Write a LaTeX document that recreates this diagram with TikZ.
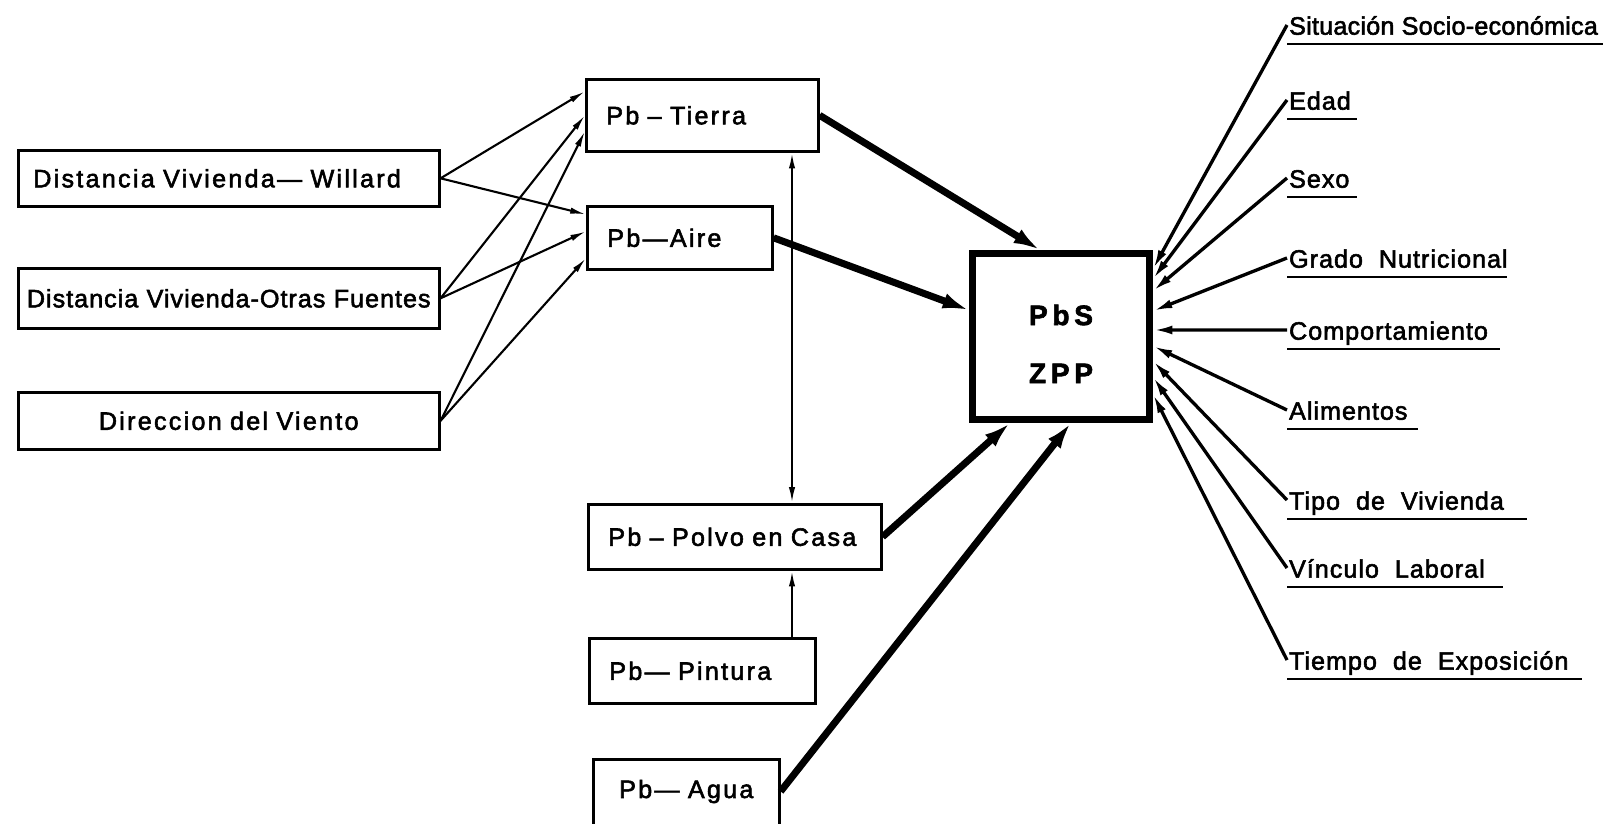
\documentclass[tikz,border=0pt]{standalone}
\usepackage{fontspec}
\setmainfont{Liberation Sans}[LetterSpace=9, FakeBold=2.2]
\newfontfamily\tightfont{Liberation Sans}[LetterSpace=4, FakeBold=2.2]
\usepackage{tikz}
\usetikzlibrary{arrows.meta, calc, positioning}
\definecolor{inkcolor}{RGB}{0,0,0}
\newcommand{\diagfont}{\fontsize{14.3}{17}\selectfont}

\begin{document}
\begin{tikzpicture}[
	x=0.02cm, y=-0.02cm,
	font=\diagfont,
	thintip/.tip={Latex[length=9pt,width=3.6pt]},
	bigtip/.tip={Latex[length=15pt,width=9pt]},
	spoketip/.tip={Latex[length=11pt,width=5pt]},
	box/.style={draw=inkcolor, line width=1.5pt, inner xsep=0.4cm, inner ysep=0pt, anchor=north west, align=left},
	thinarr/.style={draw=inkcolor, line width=1.2pt, -thintip},
	thickarr/.style={draw=inkcolor, line width=4pt, -bigtip},
	spoke/.style={draw=inkcolor, line width=1.9pt, -spoketip},
	uline/.style={draw=inkcolor, line width=1.4pt},
	factor/.style={anchor=west, inner xsep=1pt, inner ysep=0.18cm, text height=11pt, text depth=0pt, font=\diagfont\tightfont}
	]
\clip (0,0) rectangle (1614,824);

% distances and wind
\node[box, text width=7.82cm, inner xsep=0.3cm, minimum height=1.12cm] (willard) at (17,149) {Distancia Vivienda— Willard};
\node[box, text width=8.1cm, inner xsep=0.16cm, minimum height=1.2cm, align=center] (otras) at (17,267) {\tightfont Distancia Vivienda-Otras Fuentes};
\node[box, text width=7.82cm, inner xsep=0.3cm, minimum height=1.14cm, align=center] (viento) at (17,391) {Direccion del Viento};

% lead sources
\node[box, text width=3.84cm, minimum height=1.44cm] (tierra) at (585,78) {Pb – Tierra};
\node[box, text width=2.9cm, minimum height=1.26cm] (aire) at (586,205) {Pb—Aire};
\node[box, text width=5.06cm, minimum height=1.3cm] (polvo) at (587,503) {Pb – Polvo en Casa};
\node[box, text width=3.72cm, minimum height=1.3cm] (pintura) at (588,637) {Pb— Pintura};
\node[box, text width=2.92cm, minimum height=1.96cm, align=center] (agua) at (592,758) {Pb— Agua\\ \strut};

% blood lead
\node[draw=inkcolor, line width=4pt, minimum width=3.54cm, minimum height=3.32cm, anchor=north west, align=center, font=\fontsize{16}{19}\selectfont\bfseries] (pbs) at (969,250) {\rule{0pt}{20pt}P\,b\,S\\[14pt]Z\,P\,P};

% thin arrows
\draw[thinarr] (willard.east) -- ([yshift=13.6pt]tierra.west);
\draw[thinarr] (willard.east) -- ([yshift=13.3pt]aire.west);
\draw[thinarr] (otras.east) -- (tierra.west);
\draw[thinarr] (otras.east) -- ([yshift=3.7pt]aire.west);
\draw[thinarr] (viento.east) -- ([yshift=-9pt]tierra.west);
\draw[thinarr] (viento.east) -- ([yshift=-11.6pt]aire.west);

\coordinate (link) at (792,0);
\draw[thinarr, thintip-thintip] (tierra.south -| link) -- (polvo.north -| link);
\draw[thinarr] (pintura.north -| link) -- (polvo.south -| link);

% thick arrows
\draw[thickarr] (tierra.east) -- ([xshift=-12pt]pbs.north);
\draw[thickarr] (aire.east) -- ([yshift=15pt]pbs.west);
\draw[thickarr] (polvo.east) -- ([xshift=-29pt]pbs.south);
\draw[thickarr] ([yshift=9.6pt]agua.east) -- ([xshift=5.6pt]pbs.south);

% factors on the right
\foreach \name/\txt/\ypos/\ulen/\dy in {
	sit/\addfontfeature{LetterSpace=1}Situación\ Socio-económica/25/316/-67.5,
	edad/Edad/100/70/-57.5,
	sexo/Sexo/178/70/-45.5,
	grado/Grado\ \ Nutricional/258/220/-25.5,
	comp/Comportamiento/330/213/-6.5,
	alim/Alimentos/410/131/9.5,
	tipo/Tipo\ \ de\ \ Vivienda/500/240/24.5,
	vinc/Vínculo\ \ Laboral/568/216/40.5,
	tiempo/Tiempo\ \ de\ \ Exposición/660/295/57.5}
{
	\node[factor] (\name) at (1287,\ypos) {\txt};
	\draw[uline] (\name.south west) -- ++(\ulen,0);
	\draw[spoke] (\name.west) -- ($(pbs.east)+(0,\dy)$);
}

\end{tikzpicture}
\end{document}
